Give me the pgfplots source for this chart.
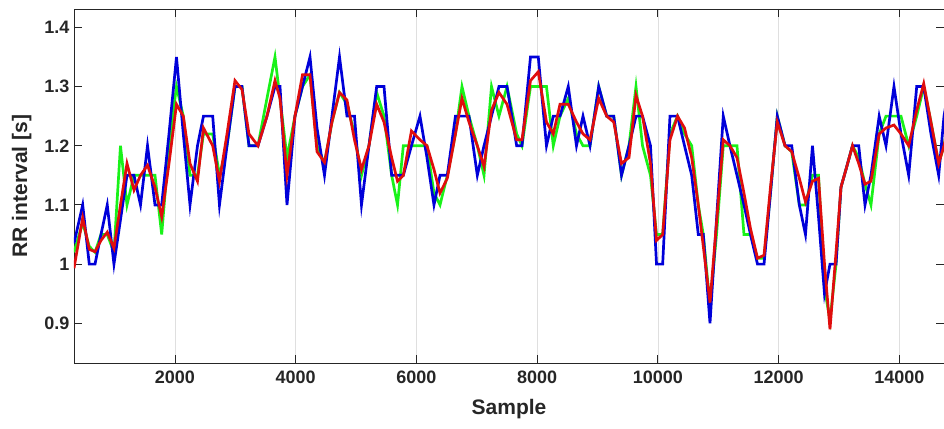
\documentclass[border=0pt]{standalone}
\usepackage{fontspec}
\setmainfont{Liberation Sans}
\usepackage{pgfplots}
\usepackage{pgfplotstable}
\pgfplotsset{compat=1.18}

\definecolor{mgreen}{rgb}{0.1,0.95,0.1}
\definecolor{mblue}{rgb}{0.0,0.0,0.85}
\definecolor{mred}{rgb}{0.88,0.05,0.05}
\definecolor{axgray}{rgb}{0.15,0.15,0.15}

% x = sample, b = blue, g = green, r = red
\pgfplotstableread{
x     b     g     r
327   1.035 1.02  0.993
471   1.10  1.07  1.078
580   1.00  1.03  1.025
675   1.00  1.02  1.021
774   1.05  1.05  1.04
878   1.10  1.05  1.054
989   1.00  1.02  1.027
1097  1.075 1.20  1.10
1205  1.15  1.10  1.17
1321  1.15  1.15  1.125
1429  1.10  1.15  1.15
1545  1.20  1.15  1.167
1669  1.10  1.15  1.13
1780  1.10  1.05  1.08
1901  1.22  1.20  1.17
2025  1.35  1.30  1.27
2138  1.22  1.25  1.25
2249  1.10  1.15  1.17
2373  1.20  1.15  1.14
2472  1.25  1.22  1.23
2625  1.25  1.22  1.20
2737  1.10  1.15  1.14
2862  1.20  1.20  1.22
2994  1.30  1.30  1.31
3110  1.30  1.30  1.295
3226  1.20  1.20  1.22
3375  1.20  1.20  1.20
3524  1.25  1.28  1.25
3657  1.30  1.35  1.31
3740  1.30  1.28  1.28
3856  1.10  1.18  1.15
3988  1.25  1.25  1.25
4113  1.30  1.30  1.32
4237  1.35  1.32  1.32
4353  1.23  1.20  1.19
4477  1.15  1.17  1.172
4601  1.25  1.24  1.24
4726  1.35  1.29  1.29
4850  1.25  1.27  1.277
4974  1.25  1.22  1.21
5090  1.10  1.15  1.16
5214  1.20  1.20  1.20
5342  1.30  1.29  1.27
5463  1.30  1.25  1.24
5590  1.15  1.15  1.18
5687  1.15  1.10  1.14
5783  1.15  1.20  1.15
5918  1.20  1.20  1.225
6059  1.25  1.20  1.21
6175  1.18  1.20  1.20
6291  1.10  1.12  1.16
6391  1.15  1.10  1.12
6512  1.15  1.15  1.145
6647  1.25  1.22  1.22
6755  1.25  1.30  1.28
6871  1.25  1.25  1.24
7009  1.15  1.20  1.20
7120  1.20  1.15  1.165
7244  1.25  1.30  1.26
7368  1.30  1.25  1.29
7501  1.30  1.30  1.27
7661  1.20  1.22  1.21
7749  1.20  1.20  1.21
7890  1.35  1.30  1.31
8019  1.35  1.30  1.325
8155  1.20  1.30  1.24
8268  1.25  1.20  1.22
8379  1.25  1.25  1.27
8516  1.30  1.28  1.27
8652  1.20  1.22  1.24
8760  1.25  1.20  1.22
8876  1.20  1.20  1.21
9020  1.30  1.30  1.28
9153  1.25  1.25  1.25
9269  1.25  1.25  1.24
9398  1.15  1.15  1.17
9522  1.20  1.20  1.18
9638  1.25  1.30  1.285
9746  1.25  1.20  1.25
9878  1.20  1.15  1.17
9978  1.00  1.05  1.04
10080 1.00  1.05  1.05
10201 1.25  1.22  1.21
10326 1.25  1.25  1.25
10442 1.20  1.22  1.23
10561 1.15  1.20  1.18
10670 1.05  1.10  1.10
10753 1.05  1.05  1.03
10864 0.90  0.93  0.935
10972 1.075 1.05  1.07
11084 1.25  1.20  1.21
11195 1.20  1.20  1.20
11311 1.15  1.20  1.18
11427 1.10  1.05  1.12
11535 1.05  1.05  1.06
11651 1.00  1.01  1.01
11759 1.00  1.01  1.015
11866 1.12  1.12  1.13
11979 1.25  1.25  1.24
12107 1.20  1.20  1.20
12218 1.20  1.19  1.19
12344 1.10  1.10  1.145
12446 1.05  1.10  1.105
12562 1.20  1.15  1.14
12662 1.08  1.15  1.145
12761 0.95  0.96  1.00
12852 1.00  0.905 0.89
12952 1.00  1.00  1.02
13034 1.13  1.13  1.13
13117 1.16  1.16  1.16
13225 1.20  1.20  1.20
13328 1.20  1.18  1.17
13432 1.10  1.135 1.135
13531 1.15  1.10  1.14
13667 1.25  1.22  1.22
13780 1.20  1.25  1.23
13912 1.30  1.25  1.235
14028 1.22  1.25  1.22
14156 1.15  1.20  1.20
14289 1.30  1.25  1.26
14405 1.30  1.30  1.305
14525 1.22  1.24  1.24
14653 1.15  1.17  1.17
14741 1.25  1.20  1.20
14824 1.30  1.25  1.24
}\rr

\begin{document}
\begin{tikzpicture}
\begin{axis}[
    scale only axis,
    width=870pt, height=354pt,
    xmin=327, xmax=14741,
    ymin=0.833, ymax=1.431,
    xtick={2000,4000,...,14000},
    ytick={0.9,1,1.1,1.2,1.3,1.4},
    scaled ticks=false,
    /pgf/number format/1000 sep={},
    /pgf/number format/assume math mode=true,
    tick align=inside,
    major tick length=8pt,
    xmajorgrids,
    grid style={gray!25, line width=0.6pt},
    axis line style={axgray, line width=0.9pt},
    every tick/.style={axgray, line width=0.9pt},
    tick label style={font=\bfseries\fontsize{18}{18}\selectfont, text=axgray},
    xticklabel style={yshift=-4pt},
    yticklabel style={xshift=-1pt},
    xlabel={Sample},
    ylabel={RR interval [s]},
    label style={font=\bfseries\fontsize{21}{21}\selectfont, text=axgray},
    xlabel style={yshift=-9pt},
    ylabel style={yshift=6pt},
    clip=true,
]
\addplot[mgreen, line width=2.7pt] table[x=x, y=g] {\rr};
\addplot[mblue, line width=2.7pt] table[x=x, y=b] {\rr};
\addplot[mred, line width=2.7pt] table[x=x, y=r] {\rr};
\end{axis}
\pgfresetboundingbox
\path ([xshift=-74pt, yshift=-66pt]current axis.south west) rectangle ([yshift=9pt]current axis.north east);
\end{tikzpicture}
\end{document}
